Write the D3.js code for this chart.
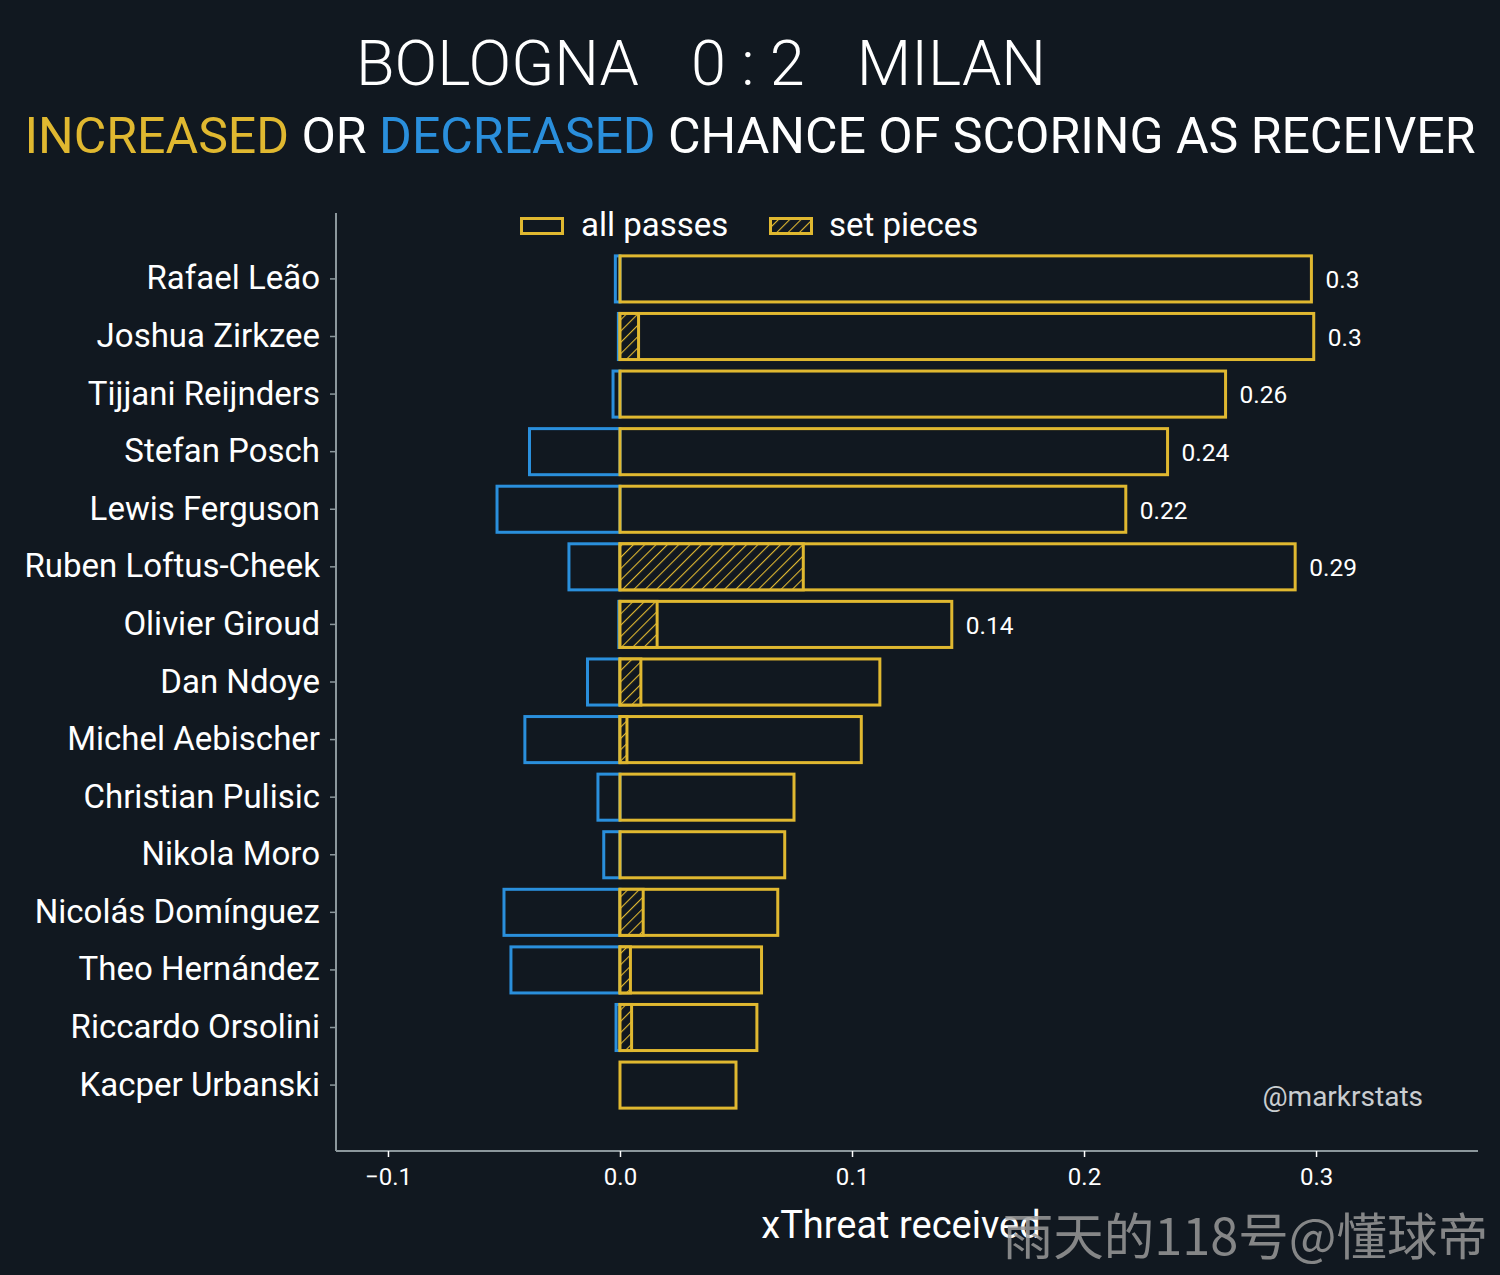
<!DOCTYPE html>
<html>
<head>
<meta charset="utf-8">
<script src="https://cdn.jsdelivr.net/npm/d3@7"></script>
<style>
  html, body { margin: 0; padding: 0; background: #111820; }
  svg { display: block; font-family: Roboto, "Noto Sans", sans-serif; }
</style>
</head>
<body>
<div id="chart"></div>
<script>
const players = [
  'Rafael Leão', 'Joshua Zirkzee', 'Tijjani Reijnders', 'Stefan Posch',
  'Lewis Ferguson', 'Ruben Loftus-Cheek', 'Olivier Giroud', 'Dan Ndoye',
  'Michel Aebischer', 'Christian Pulisic', 'Nikola Moro', 'Nicolás Domínguez',
  'Theo Hernández', 'Riccardo Orsolini', 'Kacper Urbanski'
]
// xThreat received from all passes (positive part)
const allPasses = [0.298, 0.299, 0.261, 0.236, 0.218, 0.291, 0.143, 0.112, 0.104, 0.075, 0.071, 0.068, 0.061, 0.059, 0.050]
// xThreat received from set pieces
const setPieces = [0, 0.008, 0, 0, 0, 0.079, 0.016, 0.009, 0.003, 0, 0, 0.010, 0.0045, 0.005, 0]
// negative part (decreased chance)
const negative = [-0.002, -0.0007, -0.003, -0.039, -0.053, -0.022, -0.0005, -0.014, -0.041, -0.0095, -0.007, -0.050, -0.047, -0.0017, 0]
// value labels shown at the end of the bigger bars
const valueLabels = ['0.3', '0.3', '0.26', '0.24', '0.22', '0.29', '0.14', '', '', '', '', '', '', '', '']
const xTicks = [-0.1, 0.0, 0.1, 0.2, 0.3]

const W = 1500, H = 1275
const BG = '#111820'
const YELLOW = '#e0b830'
const BLUE = '#2a8fdc'
const SPINE = '#8c979c'

const margin = { top: 253, right: 22, bottom: 124, left: 336 }
const innerW = W - margin.left - margin.right
const axisY = 1151 - margin.top

const x = d3.scaleLinear().domain([-0.1224, 0.3698]).range([0, innerW])
const y = d3.scaleBand().domain(players).range([0, 858]).paddingInner(0.2).paddingOuter(0.05)

const svg = d3.select('#chart').append('svg')
  .attr('width', W).attr('height', H)

svg.append('rect').attr('width', W).attr('height', H).attr('fill', BG)

// hatch pattern for set pieces
const defs = svg.append('defs')
const pat = defs.append('pattern')
  .attr('id', 'hatch')
  .attr('patternUnits', 'userSpaceOnUse')
  .attr('width', 8).attr('height', 8)
  .attr('patternTransform', 'rotate(45)')
pat.append('rect').attr('width', 8).attr('height', 8).attr('fill', BG)
pat.append('line')
  .attr('x1', 0).attr('y1', 0).attr('x2', 0).attr('y2', 8)
  .attr('stroke', YELLOW).attr('stroke-width', 2.2)

// ---------- Titles ----------
const title = svg.append('text')
  .attr('x', 701).attr('y', 85)
  .attr('text-anchor', 'middle')
  .attr('fill', '#ffffff')
  .attr('font-size', 63)
  .attr('font-weight', 300)
title.append('tspan').text('BOLOGNA')
title.append('tspan').attr('dx', 52).text('0 : 2')
title.append('tspan').attr('dx', 52).text('MILAN')

const sub = svg.append('text')
  .attr('x', 750).attr('y', 153)
  .attr('text-anchor', 'middle')
  .attr('font-size', 50)
  .attr('fill', '#ffffff')
sub.append('tspan').attr('fill', YELLOW).text('INCREASED')
sub.append('tspan').text(' OR ')
sub.append('tspan').attr('fill', BLUE).text('DECREASED')
sub.append('tspan').text(' CHANCE OF SCORING AS RECEIVER')

const g = svg.append('g').attr('transform', `translate(${margin.left},${margin.top})`)

// ---------- Axes ----------
const xAxis = g.append('g')
  .attr('transform', `translate(0,${axisY})`)
  .call(d3.axisBottom(x).tickValues(xTicks).tickSize(6).tickPadding(11))
xAxis.select('.domain').attr('stroke', SPINE).attr('stroke-width', 2).attr('d', `M0,0H${innerW}`)
xAxis.selectAll('.tick line').attr('stroke', '#ffffff').attr('stroke-width', 1.5)
xAxis.selectAll('.tick text').attr('fill', '#ffffff').attr('font-size', 24).attr('font-family', 'Roboto')
  .text(d => d < 0 ? '\u22120.1' : d3.format('.1f')(d))

g.append('line')
  .attr('x1', 0).attr('x2', 0)
  .attr('y1', -40).attr('y2', axisY)
  .attr('stroke', SPINE).attr('stroke-width', 2)

const yAxis = g.append('g')
  .call(d3.axisLeft(y).tickSize(6).tickPadding(10))
yAxis.select('.domain').remove()
yAxis.selectAll('.tick line').attr('stroke', SPINE).attr('stroke-width', 1.5)
yAxis.selectAll('.tick text').attr('fill', '#ffffff').attr('font-size', 33).attr('font-family', 'Roboto')

// x label
svg.append('text')
  .attr('x', 901).attr('y', 1238)
  .attr('text-anchor', 'middle')
  .attr('fill', '#ffffff')
  .attr('font-size', 38)
  .text('xThreat received')

// ---------- Bars ----------
const rows = players.map((p, i) => ({
  name: p, all: allPasses[i], sp: setPieces[i], neg: negative[i], label: valueLabels[i]
}))

// negative (blue) first
g.selectAll('.neg')
  .data(rows.filter(d => d.neg < 0))
  .join('rect')
  .attr('class', 'neg')
  .attr('x', d => x(d.neg))
  .attr('y', d => y(d.name))
  .attr('width', d => x(0) - x(d.neg))
  .attr('height', y.bandwidth())
  .attr('fill', 'none')
  .attr('stroke', BLUE)
  .attr('stroke-width', 3)

g.selectAll('.all')
  .data(rows)
  .join('rect')
  .attr('class', 'all')
  .attr('x', x(0))
  .attr('y', d => y(d.name))
  .attr('width', d => x(d.all) - x(0))
  .attr('height', y.bandwidth())
  .attr('fill', 'none')
  .attr('stroke', YELLOW)
  .attr('stroke-width', 3)

g.selectAll('.sp')
  .data(rows.filter(d => d.sp > 0))
  .join('rect')
  .attr('class', 'sp')
  .attr('x', x(0))
  .attr('y', d => y(d.name))
  .attr('width', d => x(d.sp) - x(0))
  .attr('height', y.bandwidth())
  .attr('fill', 'url(#hatch)')
  .attr('stroke', YELLOW)
  .attr('stroke-width', 3)

g.selectAll('.val')
  .data(rows.filter(d => d.label))
  .join('text')
  .attr('class', 'val')
  .attr('x', d => x(d.all) + 14)
  .attr('y', d => y(d.name) + y.bandwidth() / 2)
  .attr('dy', '0.38em')
  .attr('fill', '#ffffff')
  .attr('font-size', 24.5)
  .text(d => d.label)

// ---------- Legend ----------
const legend = svg.append('g').attr('transform', 'translate(520,217)')
legend.append('rect')
  .attr('x', 1.5).attr('y', 1.5).attr('width', 41).attr('height', 15)
  .attr('fill', 'none').attr('stroke', YELLOW).attr('stroke-width', 3)
legend.append('text')
  .attr('x', 61).attr('y', 7).attr('dy', '0.36em')
  .attr('fill', '#ffffff').attr('font-size', 33)
  .text('all passes')
legend.append('rect')
  .attr('x', 250.5).attr('y', 1.5).attr('width', 41).attr('height', 15)
  .attr('fill', 'url(#hatch)').attr('stroke', YELLOW).attr('stroke-width', 3)
legend.append('text')
  .attr('x', 309).attr('y', 7).attr('dy', '0.36em')
  .attr('fill', '#ffffff').attr('font-size', 33)
  .text('set pieces')

// credit
svg.append('text')
  .attr('x', 1423).attr('y', 1106)
  .attr('text-anchor', 'end')
  .attr('fill', '#c9cdd0')
  .attr('font-size', 28)
  .text('@markrstats')

// watermark
svg.append('text')
  .attr('x', 1488).attr('y', 1255)
  .attr('text-anchor', 'end')
  .attr('fill', '#9a9a9a')
  .attr('fill-opacity', 0.85)
  .attr('font-size', 50.5)
  .attr('font-family', '"Noto Sans CJK SC", sans-serif')
  .text('雨天的118号@懂球帝')
</script>
</body>
</html>
